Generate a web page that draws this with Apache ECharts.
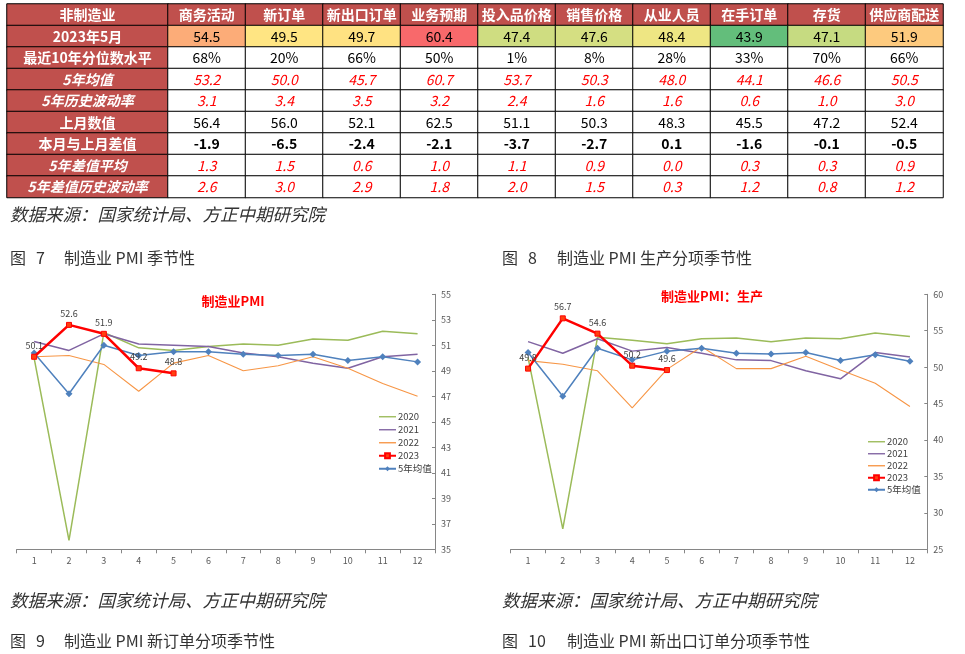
<!DOCTYPE html>
<html><head><meta charset="utf-8">
<script src="https://cdn.jsdelivr.net/npm/echarts@6/dist/echarts.min.js"></script>
<style>html,body{margin:0;padding:0;background:#fff}#c{width:965px;height:654px}</style>
</head><body><div id="c"></div>
<script>
// ---------- table data ----------
const tableRowLabels = ['非制造业','2023年5月','最近10年分位数水平','5年均值','5年历史波动率','上月数值','本月与上月差值','5年差值平均','5年差值历史波动率'];
const tableColumns = ['商务活动','新订单','新出口订单','业务预期','投入品价格','销售价格','从业人员','在手订单','存货','供应商配送'];
const valMay2023 = [54.5, 49.5, 49.7, 60.4, 47.4, 47.6, 48.4, 43.9, 47.1, 51.9];
const pct10y = ['68%','20%','66%','50%','1%','8%','28%','33%','70%','66%'];
const avg5y = [53.2, 50.0, 45.7, 60.7, 53.7, 50.3, 48.0, 44.1, 46.6, 50.5];
const vol5y = [3.1, 3.4, 3.5, 3.2, 2.4, 1.6, 1.6, 0.6, 1.0, 3.0];
const prevMonth = [56.4, 56.0, 52.1, 62.5, 51.1, 50.3, 48.3, 45.5, 47.2, 52.4];
const diffMoM = [-1.9, -6.5, -2.4, -2.1, -3.7, -2.7, 0.1, -1.6, -0.1, -0.5];
const diffAvg5y = [1.3, 1.5, 0.6, 1.0, 1.1, 0.9, 0.0, 0.3, 0.3, 0.9];
const diffVol5y = [2.6, 3.0, 2.9, 1.8, 2.0, 1.5, 0.3, 1.2, 0.8, 1.2];

// ---------- chart data ----------
const months = ['1','2','3','4','5','6','7','8','9','10','11','12'];
const seriesNames = ['2020','2021','2022','2023','5年均值'];
const pmi2020 = [50.0, 35.7, 52.0, 50.8, 50.6, 50.9, 51.1, 51.0, 51.5, 51.4, 52.1, 51.9];
const pmi2021 = [51.3, 50.6, 51.9, 51.1, 51.0, 50.9, 50.4, 50.1, 49.6, 49.2, 50.1, 50.3];
const pmi2022 = [50.1, 50.2, 49.5, 47.4, 49.6, 50.2, 49.0, 49.4, 50.1, 49.2, 48.0, 47.0];
const pmi2023 = [50.1, 52.6, 51.9, 49.2, 48.8];
const pmiAvg5 = [50.4, 47.2, 51.0, 50.2, 50.5, 50.5, 50.3, 50.2, 50.3, 49.8, 50.1, 49.7];
const prod2020 = [51.3, 27.8, 54.1, 53.7, 53.2, 53.9, 54.0, 53.5, 54.0, 53.9, 54.7, 54.2];
const prod2021 = [53.5, 51.9, 53.9, 52.2, 52.7, 51.9, 51.0, 50.9, 49.5, 48.4, 52.0, 51.4];
const prod2022 = [50.9, 50.4, 49.5, 44.4, 49.7, 52.8, 49.8, 49.8, 51.5, 49.6, 47.8, 44.6];
const prod2023 = [49.8, 56.7, 54.6, 50.2, 49.6];
const prodAvg5 = [52.0, 46.0, 52.6, 51.0, 52.2, 52.6, 51.9, 51.8, 52.0, 50.9, 51.7, 50.8];

// ---------- styling helpers ----------
const RED_BG = '#C0504D';
const FONT = '"Noto Sans CJK SC", sans-serif';
function hex(c){return c.toString(16).padStart(2,'0');}
function mix(a,b,t){return [0,1,2].map(i=>Math.round(a[i]+(b[i]-a[i])*t));}
function heatColor(v, arr){
  const s = arr.slice().sort((x,y)=>x-y);
  const mn = s[0], mx = s[s.length-1];
  const n = s.length, md = n%2 ? s[(n-1)/2] : (s[n/2-1]+s[n/2])/2;
  const g=[99,190,123], y=[255,235,132], r=[248,105,107];
  const c = v<=md ? mix(g,y,(v-mn)/(md-mn)) : mix(y,r,(v-md)/(mx-md));
  return '#'+c.map(hex).join('');
}
const f1 = v => v.toFixed(1);
const rowText = [
  tableColumns,
  valMay2023.map(f1),
  pct10y,
  avg5y.map(f1),
  vol5y.map(f1),
  prevMonth.map(f1),
  diffMoM.map(f1),
  diffAvg5y.map(f1),
  diffVol5y.map(f1)
];
const redItalicRows = [3,4,7,8];

const labelCells = tableRowLabels.map((t,r)=>({
  value:[0,r,0],
  itemStyle:{color:RED_BG},
  label:{color:'#fff', fontWeight:'bold', fontStyle: redItalicRows.includes(r)?'italic':'normal'}
}));
const valueCells = [];
rowText.forEach((row,r)=>{
  row.forEach((t,c)=>{
    let bg = '#fff', lab = {color:'#000', fontWeight:'normal', fontStyle:'normal'};
    if (r===0){ bg = RED_BG; lab = {color:'#fff', fontWeight:'bold', fontStyle:'normal'}; }
    else if (r===1){ bg = heatColor(valMay2023[c], valMay2023); }
    else if (r===6){ lab.fontWeight='bold'; }
    else if (redItalicRows.includes(r)){ lab = {color:'#FF0000', fontWeight:'normal', fontStyle:'italic'}; }
    valueCells.push({value:[c,r,0], itemStyle:{color:bg}, label:lab});
  });
});

const axisGray = '#868686';
function catX(gi){return {type:'category', gridIndex:gi, data:months, boundaryGap:true,
  axisLine:{lineStyle:{color:axisGray}}, axisTick:{show:true, length:4, lineStyle:{color:axisGray}},
  axisLabel:{fontSize:9, color:'#595959', margin:7, fontFamily:FONT}, splitLine:{show:false}};}
function valY(gi,min,max,interval){return {type:'value', gridIndex:gi, position:'right', min, max, interval,
  axisLine:{show:true, lineStyle:{color:axisGray}}, axisTick:{show:true, inside:true, length:3, lineStyle:{color:axisGray}},
  axisLabel:{fontSize:9, color:'#595959', margin:6, fontFamily:FONT}, splitLine:{show:false}};}

function chartSeries(ai, d2020, d2021, d2022, d2023, dAvg){
  const base = {type:'line', xAxisIndex:ai, yAxisIndex:ai, animation:false, emphasis:{disabled:true}};
  return [
    Object.assign({}, base, {name:'2020', data:d2020, symbol:'none', lineStyle:{color:'#9BBB59', width:1.5}, itemStyle:{color:'#9BBB59'}, z:2}),
    Object.assign({}, base, {name:'2021', data:d2021, symbol:'none', lineStyle:{color:'#8064A2', width:1.5}, itemStyle:{color:'#8064A2'}, z:3}),
    Object.assign({}, base, {name:'2022', data:d2022, symbol:'none', lineStyle:{color:'#F79646', width:1.1}, itemStyle:{color:'#F79646'}, z:4}),
    Object.assign({}, base, {name:'5年均值', data:dAvg, symbol:'diamond', symbolSize:7, showSymbol:true, lineStyle:{color:'#4F81BD', width:1.5}, itemStyle:{color:'#4F81BD'}, z:5}),
    Object.assign({}, base, {name:'2023', data:d2023, symbol:'rect', symbolSize:5, showSymbol:true, lineStyle:{color:'#FF0000', width:2.5}, itemStyle:{color:'#FF4010', borderColor:'#FF0000', borderWidth:1}, z:6,
      label:{show:true, position:'top', distance:4, fontSize:9, color:'#404040', fontFamily:FONT, formatter:p=>f1(p.value)}})
  ];
}
const lineIcon = 'path://M0,0L20,0L20,1.6L0,1.6Z';
function legendAt(left, top, gap){
  return {orient:'vertical', left, top, itemWidth:17, itemHeight:6, itemGap:gap, selectedMode:false,
    textStyle:{fontSize:9.5, color:'#404040', fontFamily:FONT, padding:[0,0,0,-3]},
    data:seriesNames.map((n,i)=> i<3 ? {name:n, icon:lineIcon} : {name:n})};
}

const texts = [];
function txt(x,y,s,font,fill,align){texts.push({type:'text', x, y, silent:true, style:{text:s, font, fill:fill||'#333', textAlign:align||'left', textVerticalAlign:'middle'}});}
const srcFont = 'italic 17.5px "Noto Sans CJK SC"';
const capFont = '16px "Noto Sans CJK SC"';
txt(10,214,'数据来源：国家统计局、方正中期研究院',srcFont,'#333');
txt(10,258,'图',capFont); txt(36,258,'7',capFont); txt(64,258,'制造业 PMI 季节性',capFont);
txt(502,258,'图',capFont); txt(528,258,'8',capFont); txt(557,258,'制造业 PMI 生产分项季节性',capFont);
txt(10,600,'数据来源：国家统计局、方正中期研究院',srcFont,'#333');
txt(502,600,'数据来源：国家统计局、方正中期研究院',srcFont,'#333');
txt(10,641,'图',capFont); txt(36,641,'9',capFont); txt(64,641,'制造业 PMI 新订单分项季节性',capFont);
txt(502,641,'图',capFont); txt(528,641,'10',capFont); txt(567,641,'制造业 PMI 新出口订单分项季节性',capFont);
txt(233,301,'制造业PMI','bold 13px "Noto Sans CJK SC"','#FF0000','center');
txt(712,296,'制造业PMI：生产','bold 13px "Noto Sans CJK SC"','#FF0000','center');

const heatLabelBase = {show:true, fontSize:14, fontFamily:FONT};
const option = {
  animation:false,
  backgroundColor:'#fff',
  grid:[
    {left:7, top:4, width:161, height:193.5},
    {left:168, top:4, width:775, height:193.5},
    {left:16.7, top:294.3, width:418.3, height:255},
    {left:510.7, top:294.3, width:416.6, height:255}
  ],
  xAxis:[
    {type:'category', gridIndex:0, data:['label'], show:false},
    {type:'category', gridIndex:1, data:tableColumns, show:false},
    catX(2), catX(3)
  ],
  yAxis:[
    {type:'category', gridIndex:0, data:tableRowLabels, inverse:true, show:false},
    {type:'category', gridIndex:1, data:tableRowLabels, inverse:true, show:false},
    valY(2,35,55,2), valY(3,25,60,5)
  ],
  legend:[legendAt(373,407,3.5), legendAt(862,432,2.5)],
  series:[
    {type:'heatmap', xAxisIndex:0, yAxisIndex:0, data:labelCells,
     itemStyle:{borderColor:'#000', borderWidth:1}, emphasis:{disabled:true},
     label:Object.assign({}, heatLabelBase, {formatter:p=>tableRowLabels[p.data.value[1]]})},
    {type:'heatmap', xAxisIndex:1, yAxisIndex:1, data:valueCells,
     itemStyle:{borderColor:'#000', borderWidth:1}, emphasis:{disabled:true},
     label:Object.assign({}, heatLabelBase, {formatter:p=>rowText[p.data.value[1]][p.data.value[0]]})}
  ].concat(chartSeries(2, pmi2020, pmi2021, pmi2022, pmi2023, pmiAvg5))
   .concat(chartSeries(3, prod2020, prod2021, prod2022, prod2023, prodAvg5)),
  graphic:texts
};
const chart = echarts.init(document.getElementById('c'), null, {renderer:'canvas'});
chart.setOption(option);
</script></body></html>
